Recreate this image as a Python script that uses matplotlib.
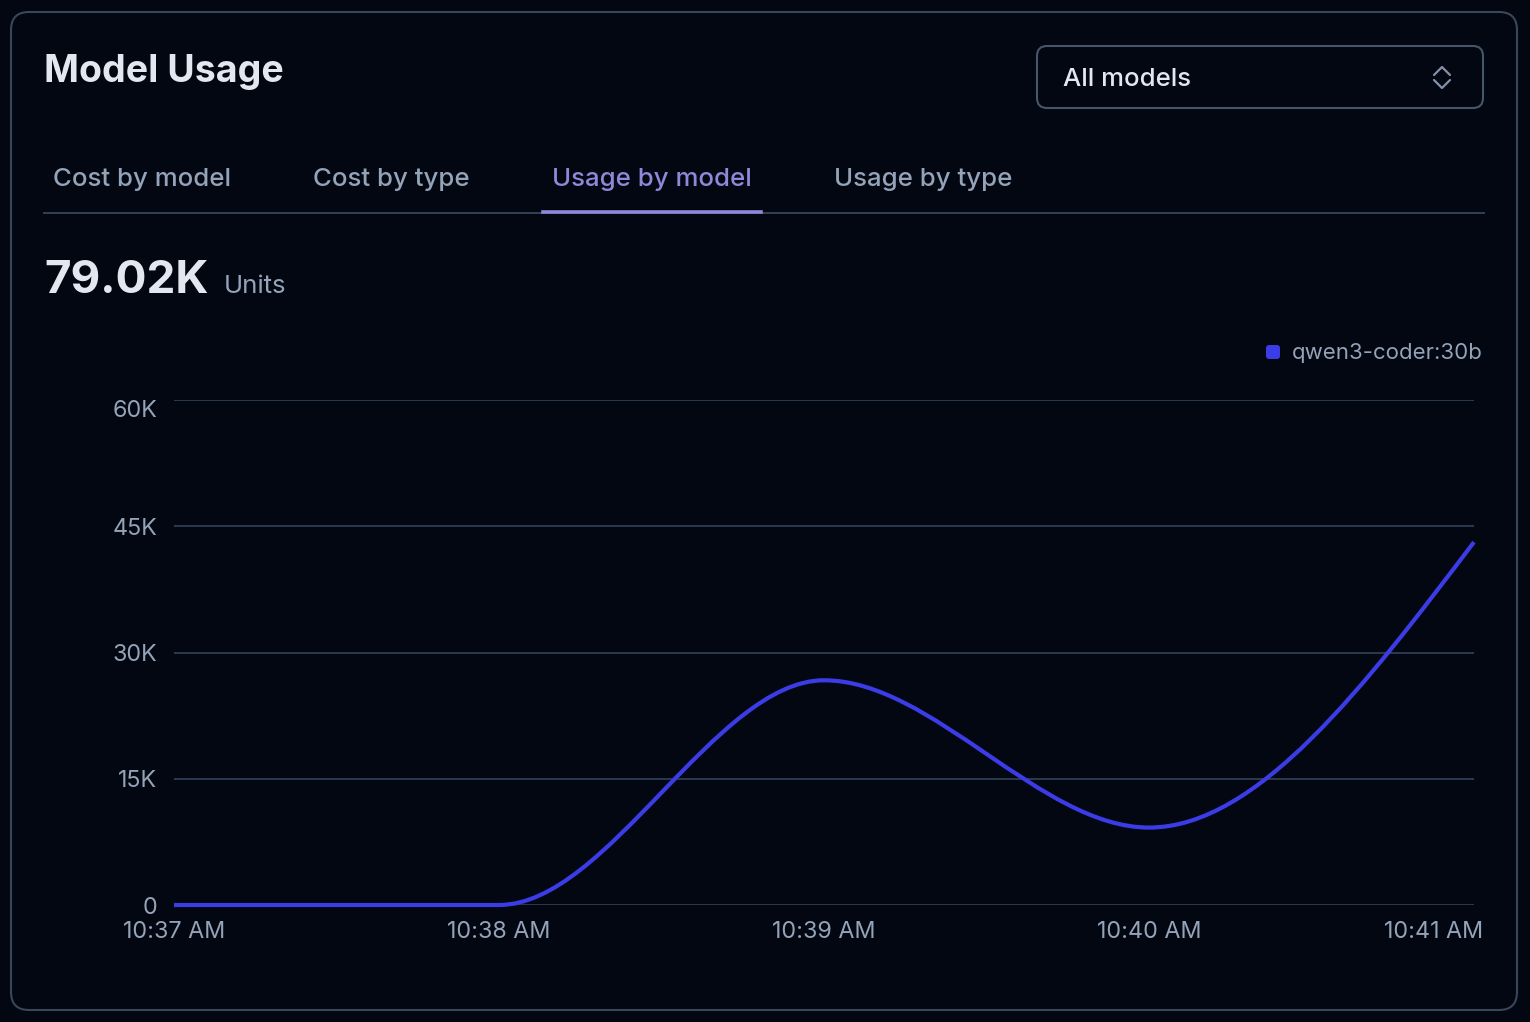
import matplotlib
matplotlib.use("Agg")
import matplotlib.pyplot as plt
from matplotlib.patches import FancyBboxPatch, PathPatch
from matplotlib.path import Path
from matplotlib.transforms import IdentityTransform, ScaledTranslation
import numpy as np

# data (minutes after 10:37, units in thousands)
minutes = [0, 1, 2, 3, 4]
time_labels = ["10:37 AM", "10:38 AM", "10:39 AM", "10:40 AM", "10:41 AM"]
usage_k = [0.0, 0.0, 26.7, 9.2, 43.12]
y_ticks = [0, 15, 30, 45, 60]
y_tick_labels = ["0", "15K", "30K", "45K", "60K"]
tabs = ["Cost by model", "Cost by type", "Usage by model", "Usage by type"]
tab_x = [53, 313, 552, 834]
active_tab = 2
model_name = "qwen3-coder:30b"
total_label = "79.02K"

BG = "#020712"
BORDER = "#3a465a"
GRID = "#2c3a50"
TEXT = "#e2e8f0"
MUTED = "#94a3b8"
ACCENT = "#8d88d8"
LINE = "#3b3ce6"

W, H = 1530, 1022
plt.rcParams['font.family'] = ['Inter', 'DejaVu Sans']

fig = plt.figure(figsize=(W / 100, H / 100), dpi=100, facecolor=BG)


def fx(x, y):
    # pixel coords (top-left origin) -> figure fraction
    return x / W, 1 - y / H


def pix(x, y):
    # pixel coords (top-left origin) -> display coords
    return x, H - y


# card
card = FancyBboxPatch(pix(11, 1010), 1506, 998, boxstyle="round,pad=0,rounding_size=18",
                      transform=IdentityTransform(), facecolor="none", edgecolor=BORDER, lw=1.5)
fig.patches.append(card)

fig.text(*fx(44, 82), "Model Usage", color=TEXT, fontsize=27, fontweight="bold",
         va="baseline", ha="left")

# dropdown
box = FancyBboxPatch(pix(1037, 108), 446, 62, boxstyle="round,pad=0,rounding_size=10",
                     transform=IdentityTransform(), facecolor="none", edgecolor="#475569", lw=1.5)
fig.patches.append(box)
fig.text(*fx(1063, 86), "All models", color=TEXT, fontsize=18.5, fontweight="medium",
         va="baseline", ha="left")
for ys in ([75, 67, 75], [80, 88, 80]):
    xs = [1434, 1442, 1450]
    fig.add_artist(plt.Line2D([x / W for x in xs], [1 - y / H for y in ys],
                              color="#8391a7", lw=1.6, solid_capstyle="round",
                              solid_joinstyle="round"))

# tabs
for i, (name, x) in enumerate(zip(tabs, tab_x)):
    fig.text(*fx(x, 186), name, color=ACCENT if i == active_tab else MUTED,
             fontsize=18.6, fontweight="medium", va="baseline", ha="left")
fig.add_artist(plt.Line2D([44 / W, 1484 / W], [1 - 213 / H] * 2, color="#334155", lw=1.4))
fig.add_artist(plt.Line2D([543 / W, 761 / W], [1 - 212 / H] * 2, color=ACCENT, lw=2.6))

# headline number
fig.text(*fx(44, 293), total_label, color=TEXT, fontsize=33, fontweight="bold",
         va="baseline", ha="left")
fig.text(*fx(224, 293), "Units", color=MUTED, fontsize=18.6, va="baseline", ha="left")

# legend
sq = FancyBboxPatch(pix(1266, 359), 14, 14, boxstyle="round,pad=0,rounding_size=3",
                    transform=IdentityTransform(), facecolor=LINE, edgecolor="none")
fig.patches.append(sq)
fig.text(*fx(1483, 353), model_name, color=MUTED, fontsize=16, va="center", ha="right")

# chart
ax = fig.add_axes([174 / W, 117 / H, 1300 / W, 505 / H])
ax.set_facecolor("none")
ax.set_xlim(minutes[0], minutes[-1])
ax.set_ylim(0, 60)
for s in ax.spines.values():
    s.set_visible(False)
ax.set_yticks(y_ticks)
ax.set_yticklabels(y_tick_labels)
ax.set_xticks(minutes)
ax.set_xticklabels(time_labels)
ax.tick_params(length=0, colors=MUTED, labelsize=16.8)
ax.tick_params(axis="y", pad=12)
ax.tick_params(axis="x", pad=11.5)
ax.grid(axis="y", color=GRID, lw=1.4)
ax.set_axisbelow(True)

# edge labels are nudged inside like the web chart does
xl = ax.get_xticklabels()
xl[-1].set_ha("right")
xl[-1].set_transform(xl[-1].get_transform() + ScaledTranslation(9 / 100, 0, fig.dpi_scale_trans))
yl = ax.get_yticklabels()
yl[-1].set_transform(yl[-1].get_transform() + ScaledTranslation(0, -8 / 100, fig.dpi_scale_trans))


# monotone-x curve (same as d3 curveMonotoneX), drawn as bezier segments
def tangents(x, y):
    x = np.asarray(x, float)
    y = np.asarray(y, float)
    n = len(x)
    t = np.zeros(n)
    for i in range(1, n - 1):
        h0 = x[i] - x[i - 1]
        h1 = x[i + 1] - x[i]
        s0 = (y[i] - y[i - 1]) / h0
        s1 = (y[i + 1] - y[i]) / h1
        p = (s0 * h1 + s1 * h0) / (h0 + h1)
        t[i] = (np.sign(s0) + np.sign(s1)) * min(abs(s0), abs(s1), 0.5 * abs(p))
    t[0] = (3 * (y[1] - y[0]) / (x[1] - x[0]) - t[1]) / 2
    t[-1] = (3 * (y[-1] - y[-2]) / (x[-1] - x[-2]) - t[-2]) / 2
    return t


t = tangents(minutes, usage_k)
verts = [(minutes[0], usage_k[0])]
codes = [Path.MOVETO]
for i in range(len(minutes) - 1):
    dx = (minutes[i + 1] - minutes[i]) / 3
    verts += [(minutes[i] + dx, usage_k[i] + dx * t[i]),
              (minutes[i + 1] - dx, usage_k[i + 1] - dx * t[i + 1]),
              (minutes[i + 1], usage_k[i + 1])]
    codes += [Path.CURVE4] * 3
ax.add_patch(PathPatch(Path(verts, codes), facecolor="none", edgecolor=LINE, lw=3,
                       capstyle="butt", clip_on=False, zorder=3))

fig.savefig("out.png", dpi=100, facecolor=BG)
